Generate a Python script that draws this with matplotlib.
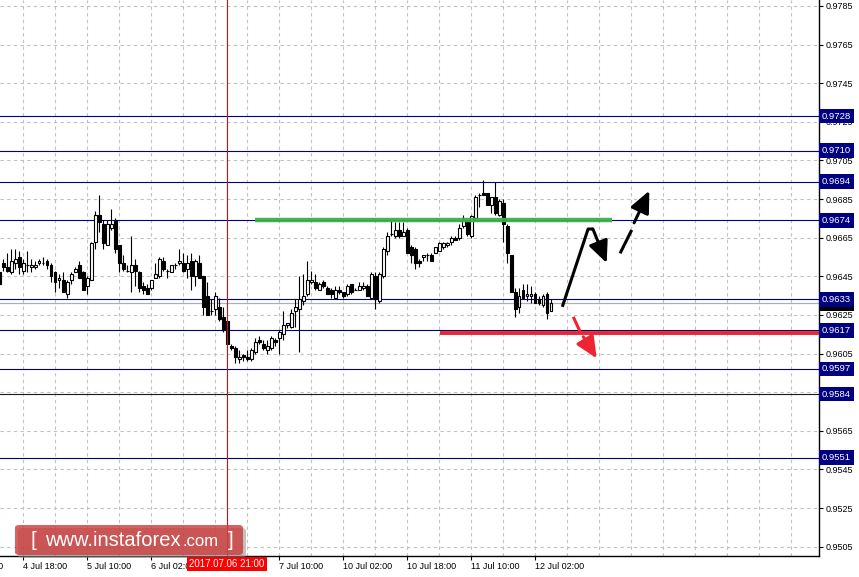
import numpy as np
import matplotlib.pyplot as plt
from matplotlib.patches import FancyBboxPatch

# свечи H1, индекс -1 .. 137
opens = [.9647, .9652, .9650, .9647, .9652, .9655, .9648, .9651, .9650, .9650,
         .9652, .9652, .9653, .9651, .9647, .9643, .9643, .9636, .9643, .9647,
         .9651, .9647, .9640, .9643, .9663, .9677, .9672, .9661, .9670, .9674,
         .9661, .9652, .9648, .9647, .9651, .9647, .9640, .9639, .9639, .9644,
         .9645, .9653, .9648, .9647, .9651, .9652, .9652, .9649, .9653, .9645,
         .9652, .9645, .9635, .9627, .9628, .9629, .9624, .9622, .9609, .9608,
         .9602, .9604, .9603, .9602, .9606, .9612, .9610, .9607, .9608, .9612,
         .9613, .9615, .9620, .9619, .9627, .9628, .9632, .9636, .9642, .9642,
         .9638, .9642, .9639, .9638, .9634, .9638, .9637, .9636, .9641, .9638,
         .9638, .9639, .9640, .9634, .9645, .9632, .9645, .9658, .9667, .9666,
         .9669, .9666, .9669, .9660, .9659, .9653, .9655, .9656, .9656, .9657,
         .9658, .9660, .9661, .9663, .9665, .9665, .9671, .9673, .9666, .9675,
         .9687, .9688, .9688, .9682, .9686, .9677, .9683, .9671, .9656, .9637,
         .9629, .9638, .9635, .9635, .9636, .9633, .9630, .9636, .9627]
highs = [.9648, .9654, .9657, .9659, .9659, .9658, .9654, .9658, .9654, .9653,
         .9654, .9655, .9654, .9652, .9648, .9646, .9647, .9643, .9647, .9650,
         .9653, .9648, .9645, .9663, .9679, .9687, .9674, .9674, .9680, .9675,
         .9661, .9656, .9651, .9666, .9654, .9648, .9642, .9641, .9643, .9652,
         .9655, .9655, .9649, .9651, .9652, .9659, .9657, .9656, .9657, .9654,
         .9656, .9645, .9642, .9633, .9637, .9634, .9629, .9622, .9610, .9609,
         .9607, .9605, .9607, .9608, .9613, .9614, .9612, .9612, .9614, .9613,
         .9617, .9627, .9621, .9628, .9633, .9645, .9646, .9653, .9648, .9646,
         .9642, .9643, .9640, .9639, .9640, .9640, .9637, .9641, .9641, .9639,
         .9642, .9642, .9641, .9647, .9647, .9647, .9660, .9668, .9674, .9673,
         .9673, .9673, .9670, .9661, .9660, .9654, .9656, .9657, .9657, .9660,
         .9663, .9663, .9663, .9666, .9666, .9672, .9677, .9674, .9677, .9687,
         .9688, .9695, .9688, .9686, .9694, .9685, .9685, .9672, .9656, .9639,
         .9639, .9641, .9641, .9640, .9637, .9635, .9636, .9637, .9633]
lows = [.9640, .9648, .9647, .9646, .9649, .9646, .9646, .9647, .9647, .9649,
        .9651, .9651, .9649, .9642, .9637, .9639, .9637, .9634, .9641, .9647,
        .9644, .9638, .9636, .9643, .9659, .9668, .9659, .9661, .9669, .9657,
        .9647, .9648, .9647, .9637, .9640, .9637, .9636, .9636, .9638, .9644,
        .9644, .9648, .9644, .9647, .9649, .9651, .9647, .9644, .9638, .9640,
        .9644, .9625, .9625, .9625, .9625, .9622, .9616, .9610, .9607, .9600,
        .9600, .9601, .9601, .9601, .9605, .9610, .9607, .9605, .9607, .9609,
        .9605, .9612, .9618, .9618, .9619, .9606, .9630, .9635, .9641, .9638,
        .9638, .9639, .9636, .9634, .9633, .9636, .9634, .9635, .9636, .9638,
        .9638, .9638, .9635, .9634, .9628, .9631, .9644, .9656, .9666, .9665,
        .9665, .9666, .9657, .9652, .9649, .9650, .9653, .9653, .9653, .9657,
        .9658, .9659, .9660, .9661, .9664, .9664, .9670, .9666, .9665, .9674,
        .9681, .9687, .9682, .9678, .9677, .9676, .9663, .9652, .9637, .9624,
        .9626, .9633, .9632, .9631, .9631, .9630, .9629, .9623, .9627]
closes = [.9641, .9650, .9648, .9653, .9654, .9650, .9652, .9651, .9651, .9651,
          .9653, .9652, .9651, .9645, .9642, .9644, .9637, .9642, .9646, .9649,
          .9644, .9638, .9644, .9662, .9677, .9673, .9662, .9672, .9672, .9659,
          .9652, .9649, .9648, .9651, .9648, .9639, .9638, .9636, .9643, .9646,
          .9654, .9649, .9648, .9651, .9651, .9653, .9648, .9652, .9645, .9653,
          .9644, .9629, .9625, .9627, .9635, .9623, .9617, .9610, .9608, .9603,
          .9603, .9603, .9602, .9607, .9611, .9611, .9608, .9609, .9613, .9611,
          .9616, .9620, .9621, .9626, .9629, .9633, .9635, .9643, .9643, .9639,
          .9641, .9640, .9636, .9636, .9638, .9637, .9635, .9640, .9637, .9638,
          .9640, .9640, .9635, .9646, .9633, .9646, .9659, .9666, .9667, .9669,
          .9666, .9668, .9657, .9656, .9652, .9652, .9656, .9656, .9653, .9660,
          .9662, .9662, .9662, .9665, .9664, .9670, .9674, .9667, .9676, .9686,
          .9687, .9687, .9682, .9686, .9678, .9684, .9672, .9657, .9637, .9628,
          .9635, .9634, .9636, .9636, .9631, .9631, .9635, .9626, .9631]

# уровни и подписи справа
levels = [0.9728, 0.9710, 0.9694, 0.9674, 0.9633, 0.9617, 0.9597, 0.9584, 0.9551]
level_colors = ['#000080', '#000080', '#000080', '#000080', '#000080',
                '#000080', '#000080', '#1a1a1a', '#000080']
bid = 0.9631
y_ticks = np.arange(0.9505, 0.9786, 0.002)

x_tick_pos = [5, 21, 37, 53, 69, 85, 101, 117, 133]
x_tick_labels = ['4 Jul 18:00', '5 Jul 10:00', '6 Jul 02:00', '6 Jul 18:00', '7 Jul 10:00',
                 '10 Jul 02:00', '10 Jul 18:00', '11 Jul 10:00', '12 Jul 02:00']
cross_idx = 56
cross_label = '2017.07.06 21:00'

# разметка аналитика
green_line = ([62.9, 152.2], [0.9674, 0.9674])
red_line = ([109.2, 204], [0.96156, 0.96156])
black_path = ([139.75, 146.2, 147.4], [0.96292, 0.96695, 0.96695])
black_head = ((147.4, 0.96695), (150.85, 0.96519))
dash_seg = ([154.2, 157.1], [0.96569, 0.96690])
dash_head = ((157.7, 0.96727), (161.5, 0.96893))
red_seg = ([142.5, 144.2], [0.96240, 0.96163])
red_head = ((145.0, 0.96137), (148.35, 0.96025))

plt.rcParams['font.family'] = ['Liberation Sans', 'DejaVu Sans']

fig = plt.figure(figsize=(8.59, 5.77), dpi=100)
ax = fig.add_axes([0, 21.3 / 577, 818.7 / 859, 555.7 / 577])

idx = np.arange(-1, len(opens) - 1)
o = np.array(opens)
c = np.array(closes)
ax.vlines(idx, lows, highs, color='black', lw=0.8, zorder=3)
ax.bar(idx, np.abs(c - o), bottom=np.minimum(o, c), width=0.6,
       color=np.where(c >= o, 'white', 'black'), edgecolor='black', linewidth=0.8, zorder=4)

# сетка
for gx in np.arange(5, 205, 8):
    ax.axvline(gx, color='#c0c0c0', lw=0.8, ls=(0, (3, 3)), zorder=0)
for gy in y_ticks:
    ax.axhline(gy, color='#c0c0c0', lw=0.8, ls=(0, (3, 3)), zorder=0)

ax.axhline(bid, color='#b0b0b0', lw=0.9, zorder=2)
for lv, col in zip(levels, level_colors):
    ax.axhline(lv, color=col, lw=0.8, zorder=2)

ax.axvline(cross_idx, color='#d01010', lw=0.8, zorder=5)

ax.plot(*green_line, color='#3cb04a', lw=3.2, solid_capstyle='butt', alpha=0.95, zorder=6)
ax.plot(*red_line, color='#ee2530', lw=2.8, solid_capstyle='butt', zorder=6)

arrow = dict(arrowstyle='-|>,head_length=1.1,head_width=0.5', lw=2.2,
             mutation_scale=12, shrinkA=0, shrinkB=0)
ax.plot(*black_path, color='black', lw=2.2, solid_capstyle='butt', zorder=7)
ax.annotate('', xy=black_head[1], xytext=black_head[0],
            arrowprops=dict(arrow, color='black'), zorder=7)
ax.plot(*dash_seg, color='black', lw=2.2, solid_capstyle='butt', zorder=7)
ax.annotate('', xy=dash_head[1], xytext=dash_head[0],
            arrowprops=dict(arrow, color='black'), zorder=7)
ax.plot(*red_seg, color='#ee2530', lw=2.2, solid_capstyle='butt', zorder=7)
ax.annotate('', xy=red_head[1], xytext=red_head[0],
            arrowprops=dict(arrow, color='#ee2530'), zorder=7)

ax.set_xlim(-0.825, 203.85)
ax.set_ylim(0.95003, 0.97881)

ax.yaxis.tick_right()
ax.set_yticks(y_ticks)
ax.set_yticklabels(['%.4f' % v for v in y_ticks])
ax.tick_params(axis='y', length=3, pad=2, labelsize=6.5, width=0.8)
ax.set_xticks(x_tick_pos)
ax.set_xticklabels(x_tick_labels, ha='left')
ax.tick_params(axis='x', length=3, pad=1.5, labelsize=6.5, width=0.8)
for s in ['top', 'left']:
    ax.spines[s].set_visible(False)
for s in ['right', 'bottom']:
    ax.spines[s].set_linewidth(1.0)

# подписи уровней
tr = ax.get_yaxis_transform()
ax.text(1.004, bid - 0.00004, '%.4f' % bid, transform=tr, ha='left', va='center', fontsize=6.8,
        color='white', bbox=dict(boxstyle='square,pad=0.3', fc='black', ec='none'), zorder=8, clip_on=False)
for lv in levels:
    ax.text(1.004, lv, '%.4f' % lv, transform=tr, ha='left', va='center', fontsize=6.8,
            color='white', bbox=dict(boxstyle='square,pad=0.3', fc='#000080', ec='none'),
            zorder=9, clip_on=False)

# хвост предыдущей подписи времени
ax.text(-11, -0.012, '4 Jul 02:00', transform=ax.get_xaxis_transform(), ha='left', va='top',
        fontsize=6.5, clip_on=False)

# логотип
fig.patches.append(FancyBboxPatch((18 / 859, 19 / 577), 228 / 859, 30 / 577,
                                  boxstyle='round,pad=0,rounding_size=0.005',
                                  transform=fig.transFigure, fc='#909090', ec='none', alpha=0.55))
fig.patches.append(FancyBboxPatch((15 / 859, 22 / 577), 228 / 859, 30 / 577,
                                  boxstyle='round,pad=0,rounding_size=0.005',
                                  transform=fig.transFigure, fc='#cc3a3a', ec='none', alpha=0.8))
fig.text(30 / 859, 37 / 577, '[', color='white', fontsize=15, va='center', ha='left')
fig.text(45 / 859, 37 / 577, 'www.instaforex', color='white', fontsize=14.5, va='center', ha='left')
fig.text(182 / 859, 36 / 577, '.com', color='white', fontsize=12, va='center', ha='left')
fig.text(228 / 859, 37 / 577, ']', color='white', fontsize=15, va='center', ha='left')

# подпись перекрестия поверх логотипа
fig.text(227 / 859, 13 / 577, cross_label, ha='center', va='center', fontsize=7, color='white',
         bbox=dict(boxstyle='square,pad=0.25', fc='#ff0000', ec='none'), zorder=5)

plt.savefig('out.png', dpi=100)
